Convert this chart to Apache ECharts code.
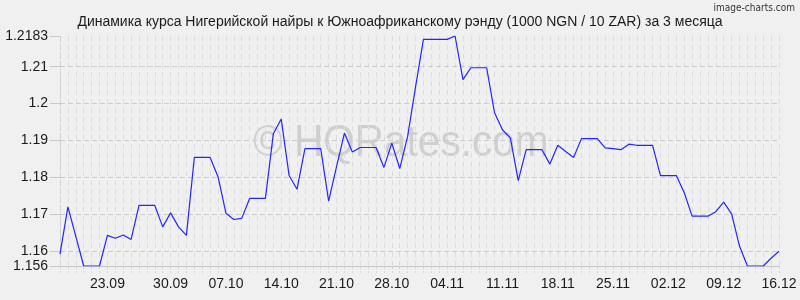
<!DOCTYPE html>
<html>
<head>
<meta charset="utf-8">
<script src="https://cdn.jsdelivr.net/npm/echarts@6/dist/echarts.min.js"></script>
<style>
html,body{margin:0;padding:0;background:#f0f0f0;}
#c{width:800px;height:300px;}
</style>
</head>
<body>
<div id="c"></div>
<script>
const titleText = 'Динамика курса Нигерийской найры к Южноафриканскому рэнду (1000 NGN / 10 ZAR) за 3 месяца';

const categories = [
 '16.09','17.09','18.09','19.09','20.09','21.09','22.09','23.09','24.09','25.09','26.09','27.09','28.09','29.09','30.09',
 '01.10','02.10','03.10','04.10','05.10','06.10','07.10','08.10','09.10','10.10','11.10','12.10','13.10','14.10','15.10',
 '16.10','17.10','18.10','19.10','20.10','21.10','22.10','23.10','24.10','25.10','26.10','27.10','28.10','29.10','30.10','31.10',
 '01.11','02.11','03.11','04.11','05.11','06.11','07.11','08.11','09.11','10.11','11.11','12.11','13.11','14.11','15.11',
 '16.11','17.11','18.11','19.11','20.11','21.11','22.11','23.11','24.11','25.11','26.11','27.11','28.11','29.11','30.11',
 '01.12','02.12','03.12','04.12','05.12','06.12','07.12','08.12','09.12','10.12','11.12','12.12','13.12','14.12','15.12','16.12'
];

const rates = [
 1.1592,1.1720,1.1640,1.1560,1.1560,1.1560,1.1643,1.1635,1.1644,1.1632,
 1.1724,1.1724,1.1724,1.1666,1.1704,1.1666,1.1643,1.1854,1.1854,1.1854,
 1.1802,1.1703,1.1686,1.1689,1.1743,1.1743,1.1743,1.1918,1.1958,1.1805,
 1.1768,1.1878,1.1878,1.1878,1.1736,1.1829,1.1920,1.1869,1.1881,1.1881,
 1.1881,1.1827,1.1893,1.1824,1.1911,1.2045,1.2174,1.2174,1.2174,1.2174,
 1.2183,1.2065,1.2097,1.2097,1.2097,1.1975,1.1929,1.1907,1.1791,1.1875,
 1.1875,1.1875,1.1836,1.1887,1.1870,1.1854,1.1905,1.1905,1.1905,1.1880,
 1.1878,1.1875,1.1890,1.1887,1.1887,1.1887,1.1805,1.1805,1.1805,1.1759,
 1.1695,1.1695,1.1695,1.1707,1.1733,1.1701,1.1614,1.1560,1.1560,1.1560,
 1.1581,1.1600
];

const xTickIndex = [6,14,21,28,35,42,49,56,63,70,77,84,91];
const xTickText = ['23.09','30.09','07.10','14.10','21.10','28.10','04.11','11.11','18.11','25.11','02.12','09.12','16.12'];

const yMin = 1.156;
const yMax = 1.2183;
const yTicks = [1.156,1.16,1.17,1.18,1.19,1.2,1.21,1.2183];
const yGridValues = [1.16,1.17,1.18,1.19,1.2,1.21,1.2183];

const chart = echarts.init(document.getElementById('c'), null, {renderer:'canvas'});
const FONT = 'Liberation Sans, Arial, sans-serif';

chart.setOption({
  backgroundColor: '#f0f0f0',
  animation: false,
  title: {
    text: titleText,
    left: 'center',
    top: 10,
    textStyle: {fontFamily: FONT, fontSize: 14, fontWeight: 'normal', color: '#1a1a1a'}
  },
  graphic: [
    {type:'text', right: 5, top: 3, style:{text:'image-charts.com', font:'10px "DejaVu Sans Condensed", "Liberation Sans Narrow", sans-serif', fill:'#333'}},
    {type:'text', x: 253, y: 121, scaleX: 0.9, z: 0, silent: true,
     style:{text:'© HQRates.com', font:'45px "Liberation Sans", Arial, sans-serif', fill:'rgba(150,150,150,0.36)'}}
  ],
  grid: {left: 60, right: 21, top: 36, bottom: 34},
  xAxis: {
    type: 'category',
    data: categories,
    boundaryGap: false,
    axisLine: {show: true, lineStyle: {color: '#c4c4c4', width: 1}},
    axisTick: {show: true, interval: 0, length: 7, lineStyle: {color: '#d6d6d6', type: [3,2]}},
    axisLabel: {
      interval: (idx) => xTickIndex.indexOf(idx) >= 0,
      formatter: (val, idx) => { const i = xTickIndex.indexOf(idx); return i >= 0 ? xTickText[i] : ''; },
      fontFamily: FONT, fontSize: 14, color: '#1a1a1a', margin: 11
    },
    splitLine: {show: true, interval: 0, lineStyle: {color: '#dcdcdc', type: [5,4], width: 1}}
  },
  yAxis: {
    type: 'value',
    min: yMin,
    max: yMax,
    axisLine: {show: true, lineStyle: {color: '#d0d0d0', type: [5,3]}},
    axisTick: {show: true, customValues: yTicks, length: 10, lineStyle: {color: '#c8c8c8'}},
    axisLabel: {customValues: yTicks, fontFamily: FONT, fontSize: 14, color: '#1a1a1a', margin: 12,
      formatter: (v) => String(v)},
    splitLine: {show: false}
  },
  series: [{
    type: 'line',
    data: rates,
    showSymbol: false,
    z: 5,
    lineStyle: {color: '#2424ff', width: 1.2},
    markLine: {
      silent: true,
      symbol: 'none',
      label: {show: false},
      z: 1,
      lineStyle: {color: '#cccccc', type: [5,3], width: 1},
      data: yGridValues.map(v => ({yAxis: v}))
    }
  }]
});
</script>
</body>
</html>
